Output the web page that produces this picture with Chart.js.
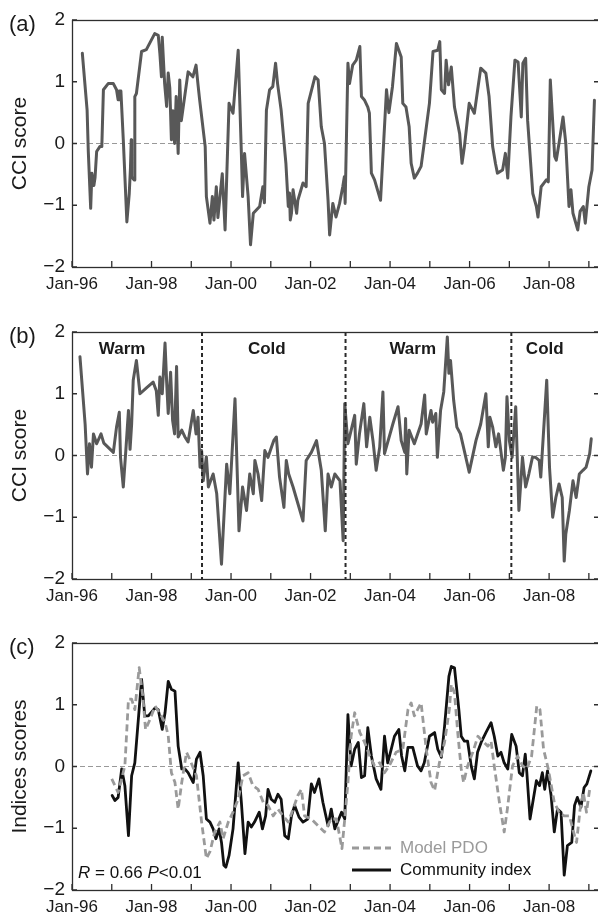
<!DOCTYPE html>
<html>
<head>
<meta charset="utf-8">
<script src="https://cdn.jsdelivr.net/npm/chart.js@4/dist/chart.umd.min.js"></script>
<style>
  html, body { margin: 0; padding: 0; background: #fff; overflow: hidden; }
  body { width: 598px; height: 915px; position: relative; }
  canvas { position: absolute; left: 0; }
</style>
</head>
<body>
<canvas id="panelA" width="600" height="305" style="top:0px"></canvas>
<canvas id="panelB" width="600" height="305" style="top:312px"></canvas>
<canvas id="panelC" width="600" height="305" style="top:623px"></canvas>
<script>
// ---- data (decimal years) ----
const yearTicks = [1996, 1997, 1998, 1999, 2000, 2001, 2002, 2003, 2004, 2005, 2006, 2007, 2008, 2009];
const yTicks = [-2, -1, 0, 1, 2];

// (a) CCI score
const timeA = [1996.26,1996.38,1996.41,1996.47,1996.50,1996.55,1996.58,1996.62,1996.70,1996.75,1996.79,1996.91,1997.04,1997.12,1997.16,1997.18,1997.23,1997.29,1997.38,1997.44,1997.47,1997.49,1997.50,1997.56,1997.58,1997.62,1997.75,1997.87,1998.08,1998.17,1998.21,1998.25,1998.27,1998.33,1998.38,1998.42,1998.46,1998.50,1998.54,1998.58,1998.62,1998.67,1998.71,1998.75,1998.92,1999.04,1999.12,1999.17,1999.21,1999.35,1999.38,1999.47,1999.53,1999.57,1999.63,1999.67,1999.73,1999.78,1999.85,1999.95,2000.05,2000.18,2000.26,2000.29,2000.34,2000.43,2000.49,2000.56,2000.72,2000.80,2000.84,2000.89,2000.97,2001.05,2001.12,2001.17,2001.26,2001.38,2001.44,2001.47,2001.49,2001.52,2001.56,2001.65,2001.68,2001.81,2001.89,2001.94,2002.11,2002.19,2002.27,2002.35,2002.44,2002.48,2002.56,2002.64,2002.73,2002.81,2002.85,2002.87,2002.94,2002.98,2003.06,2003.15,2003.24,2003.28,2003.36,2003.44,2003.48,2003.53,2003.61,2003.76,2003.91,2003.97,2004.06,2004.16,2004.28,2004.32,2004.40,2004.48,2004.53,2004.61,2004.69,2004.78,2004.87,2004.99,2005.08,2005.20,2005.25,2005.29,2005.37,2005.41,2005.47,2005.54,2005.62,2005.75,2005.81,2005.87,2005.99,2006.12,2006.28,2006.41,2006.49,2006.58,2006.65,2006.70,2006.83,2006.90,2006.96,2007.04,2007.14,2007.22,2007.30,2007.34,2007.41,2007.46,2007.59,2007.68,2007.72,2007.80,2007.93,2007.98,2008.03,2008.14,2008.18,2008.26,2008.35,2008.42,2008.50,2008.55,2008.60,2008.72,2008.78,2008.86,2008.91,2009.00,2009.08,2009.14];
const cciA = [1.46,0.54,-0.13,-1.05,-0.48,-0.68,-0.55,-0.13,-0.05,-0.05,0.87,0.97,0.97,0.87,0.71,0.85,0.85,0.06,-1.27,-0.81,-0.40,0.06,-0.54,-0.59,0.76,0.81,1.49,1.52,1.78,1.75,1.46,1.08,1.72,0.97,0.60,1.14,0.90,0.06,0.53,0.00,0.76,-0.16,1.03,0.37,1.16,1.08,1.27,0.95,0.71,-0.05,-0.86,-1.29,-0.86,-1.24,-0.70,-1.20,-0.81,-0.49,-1.40,0.65,0.49,1.51,-0.16,-0.86,-0.16,-0.86,-1.64,-1.13,-1.02,-0.70,-0.96,0.54,0.87,0.92,1.30,0.97,0.54,-0.32,-1.02,-0.80,-1.24,-1.13,-0.75,-1.13,-0.92,-0.64,-0.70,0.65,1.08,1.03,0.27,0.00,-0.92,-1.48,-0.97,-1.19,-0.97,-0.70,-0.54,-0.97,1.30,0.97,1.27,1.35,1.57,0.76,0.70,0.59,0.49,-0.48,-0.59,-0.92,0.87,0.50,0.92,1.62,1.40,0.65,0.59,0.27,-0.32,-0.56,-0.48,-0.37,0.06,0.65,1.49,1.51,1.65,0.87,0.81,1.35,0.95,1.24,0.59,0.16,-0.32,-0.05,0.65,0.49,1.22,1.14,0.76,-0.05,-0.32,-0.48,-0.43,-0.16,-0.56,0.43,1.35,1.32,0.43,1.30,1.38,0.37,-0.81,-1.02,-1.19,-0.70,-0.59,-0.62,1.03,-0.21,-0.27,0.05,0.43,0.00,-1.02,-0.75,-1.13,-1.40,-1.10,-1.02,-1.29,-0.70,-0.43,0.70];

// (b) CCI score with regimes
const timeB = [1996.20,1996.33,1996.39,1996.44,1996.49,1996.54,1996.62,1996.73,1996.80,1997.04,1997.12,1997.19,1997.22,1997.29,1997.36,1997.42,1997.46,1997.50,1997.54,1997.62,1997.71,1997.88,1998.04,1998.12,1998.17,1998.21,1998.27,1998.34,1998.38,1998.42,1998.48,1998.53,1998.58,1998.63,1998.67,1998.76,1998.84,1998.92,1999.05,1999.12,1999.17,1999.22,1999.26,1999.30,1999.38,1999.43,1999.55,1999.64,1999.76,1999.89,1999.97,2000.10,2000.20,2000.29,2000.39,2000.47,2000.56,2000.60,2000.68,2000.77,2000.85,2000.93,2001.02,2001.08,2001.14,2001.22,2001.33,2001.39,2001.45,2001.56,2001.81,2001.89,2002.02,2002.15,2002.27,2002.37,2002.44,2002.52,2002.61,2002.74,2002.82,2002.86,2002.94,2003.11,2003.15,2003.23,2003.34,2003.41,2003.49,2003.57,2003.65,2003.74,2003.82,2003.86,2004.07,2004.20,2004.28,2004.37,2004.39,2004.42,2004.48,2004.61,2004.78,2004.87,2004.91,2005.03,2005.07,2005.15,2005.19,2005.27,2005.35,2005.44,2005.48,2005.52,2005.60,2005.68,2005.77,2005.99,2006.16,2006.28,2006.41,2006.47,2006.51,2006.58,2006.66,2006.73,2006.85,2006.90,2006.94,2007.00,2007.07,2007.16,2007.24,2007.33,2007.41,2007.49,2007.58,2007.66,2007.75,2007.79,2007.94,2008.01,2008.09,2008.17,2008.25,2008.33,2008.38,2008.42,2008.51,2008.60,2008.68,2008.76,2008.85,2008.93,2009.02,2009.06];
const cciB = [1.60,0.51,-0.30,0.19,-0.19,0.35,0.19,0.35,0.20,0.05,0.46,0.70,-0.03,-0.51,0.14,0.73,0.10,0.51,1.22,1.54,1.00,1.10,1.19,1.05,0.65,1.27,1.00,1.82,1.20,0.68,1.35,0.57,0.35,1.44,0.30,0.41,0.30,0.22,0.73,0.35,0.62,-0.19,0.08,-0.41,-0.02,-0.51,-0.30,-0.62,-1.76,-0.14,-0.62,0.92,-1.22,-0.51,-0.89,-0.30,-0.62,-0.08,-0.30,-0.73,0.08,-0.03,0.14,0.25,0.30,-0.35,-0.84,-0.08,-0.30,-0.51,-1.06,-0.08,0.05,0.24,-0.24,-1.22,-0.30,-0.51,-0.30,-0.41,-1.38,0.84,0.19,0.65,-0.14,0.35,0.84,0.14,0.62,0.24,-0.24,0.14,1.03,0.03,0.51,0.79,0.24,0.05,0.60,-0.30,0.41,0.19,0.51,0.98,0.35,0.73,0.54,0.68,-0.03,0.73,1.03,1.92,1.33,1.54,0.89,0.46,0.35,-0.27,0.24,0.51,1.00,0.14,0.62,0.46,0.14,0.35,-0.24,-0.03,0.95,0.24,-0.03,0.79,-0.89,-0.03,-0.51,-0.30,-0.03,-0.03,-0.08,-0.35,1.22,-0.19,-1.00,-0.68,-0.46,-0.68,-1.71,-1.27,-0.89,-0.41,-0.68,-0.30,-0.24,-0.19,0.03,0.27];
const regimeBreaks = [1999.27, 2002.88, 2007.05];
const regimeNames = ['Warm', 'Cold', 'Warm', 'Cold'];
const regimeNameAt = [1997.26, 2000.90, 2004.57, 2007.89];

// (c) Model PDO vs community index
const timeCommunity = [1997.01,1997.08,1997.16,1997.25,1997.33,1997.42,1997.50,1997.58,1997.75,1997.83,1997.92,1998.09,1998.17,1998.27,1998.34,1998.42,1998.50,1998.59,1998.67,1998.76,1998.84,1998.92,1999.05,1999.13,1999.22,1999.30,1999.38,1999.47,1999.55,1999.62,1999.70,1999.76,1999.82,1999.87,1999.95,2000.05,2000.18,2000.26,2000.35,2000.43,2000.51,2000.59,2000.71,2000.79,2000.87,2000.93,2001.01,2001.10,2001.18,2001.26,2001.35,2001.44,2001.52,2001.60,2001.71,2001.81,2001.93,2002.02,2002.10,2002.21,2002.31,2002.44,2002.52,2002.61,2002.78,2002.86,2002.94,2003.02,2003.11,2003.20,2003.28,2003.36,2003.44,2003.53,2003.65,2003.77,2003.86,2003.94,2004.03,2004.11,2004.22,2004.29,2004.37,2004.45,2004.57,2004.69,2004.78,2004.86,2004.99,2005.12,2005.20,2005.29,2005.37,2005.48,2005.54,2005.62,2005.73,2005.79,2005.87,2005.95,2006.04,2006.12,2006.20,2006.29,2006.41,2006.54,2006.62,2006.71,2006.79,2006.87,2006.96,2007.06,2007.17,2007.25,2007.33,2007.40,2007.44,2007.52,2007.59,2007.68,2007.76,2007.83,2007.89,2007.96,2008.05,2008.13,2008.21,2008.30,2008.38,2008.46,2008.57,2008.64,2008.71,2008.80,2008.88,2008.95,2009.05];
const communityIndex = [-0.47,-0.55,-0.50,-0.04,-0.31,-1.12,-0.15,0.06,1.41,0.82,0.82,0.95,0.92,0.60,0.87,1.38,1.25,1.22,0.33,-0.04,-0.04,-0.10,-0.26,0.12,0.23,-0.15,-0.85,-0.90,-1.01,-1.17,-1.01,-1.23,-1.60,-1.63,-1.44,-1.01,0.06,-0.58,-1.41,-0.90,-0.98,-0.90,-0.74,-1.01,-0.80,-0.37,-0.53,-0.58,-0.45,-0.53,-1.12,-1.17,-0.80,-0.63,-0.82,-0.90,-0.85,-0.28,-0.42,-0.20,-0.58,-0.96,-0.69,-1.01,-0.74,-0.85,0.84,0.01,0.28,0.39,-0.18,-0.15,0.63,0.17,-0.20,-0.37,0.49,0.06,0.28,0.49,0.60,0.17,-0.07,0.31,0.31,0.01,-0.07,0.06,0.49,0.55,0.28,0.15,0.65,1.46,1.62,1.60,0.92,0.49,0.41,0.41,0.01,-0.20,0.23,0.39,0.55,0.71,0.49,0.17,0.23,0.06,-0.04,0.52,0.33,-0.10,-0.15,0.20,-0.10,-0.85,-0.58,-0.23,-0.31,-0.10,-0.37,-0.07,-0.47,-1.06,-0.69,-0.74,-1.76,-1.28,-1.23,-0.63,-0.50,-0.66,-0.34,-0.28,-0.07];
const timePDO = [1997.00,1997.08,1997.16,1997.33,1997.42,1997.50,1997.58,1997.69,1997.78,1997.85,1997.96,1998.09,1998.22,1998.34,1998.42,1998.50,1998.59,1998.67,1998.76,1998.88,1998.96,1999.13,1999.26,1999.38,1999.47,1999.59,1999.72,1999.80,1999.93,2000.05,2000.18,2000.30,2000.43,2000.55,2000.68,2000.81,2000.93,2001.06,2001.18,2001.31,2001.44,2001.56,2001.68,2001.77,2001.85,2002.02,2002.19,2002.35,2002.52,2002.65,2002.73,2002.79,2002.86,2002.94,2003.02,2003.11,2003.24,2003.36,2003.49,2003.61,2003.74,2003.86,2003.98,2004.15,2004.32,2004.45,2004.53,2004.61,2004.69,2004.78,2004.91,2005.03,2005.12,2005.24,2005.37,2005.49,2005.54,2005.62,2005.71,2005.79,2005.85,2005.95,2006.08,2006.21,2006.33,2006.46,2006.54,2006.62,2006.75,2006.87,2006.95,2007.08,2007.21,2007.33,2007.44,2007.56,2007.69,2007.77,2007.86,2007.98,2008.13,2008.25,2008.38,2008.51,2008.64,2008.69,2008.78,2008.86,2008.94,2009.02];
const modelPDO = [-0.20,-0.31,-0.42,0.01,1.09,1.09,0.92,1.60,1.14,0.60,0.76,0.98,0.85,0.71,0.50,-0.10,-0.26,-0.69,-0.26,0.23,0.12,-0.15,-0.90,-1.49,-1.38,-1.06,-0.90,-1.17,-0.90,-0.74,-0.53,-0.15,-0.10,-0.31,-0.37,-0.58,-0.63,-0.80,-0.69,-0.80,-0.90,-0.69,-0.47,-0.37,-0.80,-0.85,-0.96,-1.06,-0.85,-0.85,-1.12,-1.33,-0.85,-0.26,0.49,0.87,0.55,0.39,0.17,0.01,0.06,-0.10,0.01,0.23,0.28,0.92,1.03,0.82,0.92,1.03,0.28,-0.26,-0.39,0.06,0.39,0.92,1.33,1.19,0.49,-0.04,-0.26,0.01,0.23,0.49,0.41,0.33,0.41,0.01,-0.58,-1.06,-0.69,0.01,0.17,0.01,-0.04,0.17,0.98,0.92,0.28,-0.04,-0.58,-0.74,-0.80,-0.80,-1.12,-1.23,-0.69,-0.42,-0.74,-0.37];

const FONT = "'Liberation Sans', Arial, Helvetica, sans-serif";
Chart.defaults.font.family = FONT;
Chart.defaults.color = '#1a1a1a';

function toPoints(xs, ys) {
    return xs.map((x, i) => ({ x: x, y: ys[i] }));
}

function yearLabel(v) {
    if (v % 2 !== 0) return '';
    return 'Jan-' + String(v).slice(2);
}

// draws the box, inward ticks, zero line and panel extras
const panelPlugin = {
    id: 'panel',
    beforeDatasetsDraw(chart, args, opts) {
        const { ctx, chartArea: a, scales: { x, y } } = chart;
        ctx.save();
        ctx.strokeStyle = '#999';
        ctx.lineWidth = 1;
        ctx.setLineDash([5, 3]);
        const y0 = y.getPixelForValue(0);
        ctx.beginPath();
        ctx.moveTo(a.left, y0);
        ctx.lineTo(a.right, y0);
        ctx.stroke();
        ctx.restore();
    },
    afterDraw(chart, args, opts) {
        const { ctx, chartArea: a, scales: { x, y } } = chart;
        ctx.save();

        // regime breaks (panel b)
        if (opts.regimes) {
            ctx.strokeStyle = '#2a2a2a';
            ctx.lineWidth = 2;
            ctx.setLineDash([4, 3]);
            regimeBreaks.forEach(t => {
                const px = x.getPixelForValue(t);
                ctx.beginPath();
                ctx.moveTo(px, a.top);
                ctx.lineTo(px, a.bottom);
                ctx.stroke();
            });
            ctx.setLineDash([]);
            ctx.fillStyle = '#1a1a1a';
            ctx.font = 'bold 17px ' + FONT;
            ctx.textAlign = 'center';
            ctx.textBaseline = 'middle';
            regimeNames.forEach((name, i) => {
                ctx.fillText(name, x.getPixelForValue(regimeNameAt[i]), a.top + 17);
            });
        }

        // frame
        ctx.setLineDash([]);
        ctx.strokeStyle = '#2e2e2e';
        ctx.lineWidth = 1.3;
        ctx.strokeRect(a.left + 0.5, a.top + 0.5, a.right - a.left, a.bottom - a.top);

        // inward ticks
        ctx.beginPath();
        yTicks.forEach(v => {
            const py = y.getPixelForValue(v);
            ctx.moveTo(a.left, py); ctx.lineTo(a.left + 5, py);
            ctx.moveTo(a.right, py); ctx.lineTo(a.right - 6, py);
        });
        yearTicks.forEach(v => {
            const px = x.getPixelForValue(v);
            ctx.moveTo(px, a.bottom); ctx.lineTo(px, a.bottom - 6);
        });
        ctx.stroke();

        // panel letter
        ctx.fillStyle = '#1a1a1a';
        ctx.font = '22px ' + FONT;
        ctx.textAlign = 'left';
        ctx.textBaseline = 'middle';
        ctx.fillText(opts.letter, 9, a.top + 5);

        // legend + stats (panel c)
        if (opts.legend) {
            const ly1 = a.bottom - 42, ly2 = a.bottom - 20;
            ctx.lineWidth = 2.8;
            ctx.strokeStyle = '#9a9a9a';
            ctx.setLineDash([7, 4]);
            ctx.beginPath(); ctx.moveTo(352, ly1); ctx.lineTo(391, ly1); ctx.stroke();
            ctx.setLineDash([]);
            ctx.strokeStyle = '#111';
            ctx.beginPath(); ctx.moveTo(352, ly2); ctx.lineTo(391, ly2); ctx.stroke();
            ctx.font = '17px ' + FONT;
            ctx.fillStyle = '#9a9a9a';
            ctx.fillText('Model PDO', 400, ly1);
            ctx.fillStyle = '#111';
            ctx.fillText('Community index', 400, ly2);

            // R = 0.66 P<0.01
            let tx = 78;
            const ty = a.bottom - 17;
            const parts = [['R', true], [' = 0.66 ', false], ['P', true], ['<0.01', false]];
            parts.forEach(([txt, it]) => {
                ctx.font = (it ? 'italic ' : '') + '17px ' + FONT;
                ctx.fillText(txt, tx, ty);
                tx += ctx.measureText(txt).width;
            });
        }
        ctx.restore();
    }
};

function makePanel(canvasId, datasets, yTitle, extra) {
    const ctx = document.getElementById(canvasId).getContext('2d');
    return new Chart(ctx, {
        type: 'line',
        data: { datasets: datasets },
        options: {
            responsive: false,
            animation: false,
            events: [],
            layout: { padding: { top: 20, right: 0, left: 0, bottom: 0 } },
            plugins: {
                legend: { display: false },
                tooltip: { enabled: false },
                panel: extra
            },
            elements: {
                point: { radius: 0 },
                line: { tension: 0, borderJoinStyle: 'round', borderCapStyle: 'round' }
            },
            scales: {
                x: {
                    type: 'linear',
                    min: 1996,
                    max: 2009.28,
                    afterBuildTicks: s => { s.ticks = yearTicks.map(v => ({ value: v })); },
                    afterFit: s => { s.height = 38; },
                    grid: { display: false, drawTicks: false },
                    border: { display: false },
                    ticks: {
                        autoSkip: false,
                        maxRotation: 0,
                        padding: 7,
                        font: { size: 17 },
                        color: '#1a1a1a',
                        callback: v => yearLabel(v)
                    }
                },
                y: {
                    min: -2,
                    max: 2,
                    afterBuildTicks: s => { s.ticks = yTicks.map(v => ({ value: v })); },
                    afterFit: s => { s.width = 72; },
                    grid: { display: false, drawTicks: false },
                    border: { display: false },
                    ticks: {
                        padding: 7,
                        font: { size: 19 },
                        color: '#1a1a1a',
                        callback: v => v < 0 ? '\u2212' + Math.abs(v) : String(v)
                    },
                    title: {
                        display: true,
                        text: yTitle,
                        font: { size: 21 },
                        color: '#1a1a1a',
                        padding: { top: 8, bottom: 0 }
                    }
                }
            }
        },
        plugins: [panelPlugin]
    });
}

makePanel('panelA', [{
    data: toPoints(timeA, cciA),
    borderColor: '#585858',
    borderWidth: 3
}], 'CCI score', { letter: '(a)' });

makePanel('panelB', [{
    data: toPoints(timeB, cciB),
    borderColor: '#585858',
    borderWidth: 3
}], 'CCI score', { letter: '(b)', regimes: true });

makePanel('panelC', [{
    label: 'Model PDO',
    data: toPoints(timePDO, modelPDO),
    borderColor: '#9a9a9a',
    borderWidth: 2.8,
    borderDash: [7, 4],
    borderCapStyle: 'butt'
}, {
    label: 'Community index',
    data: toPoints(timeCommunity, communityIndex),
    borderColor: '#111',
    borderWidth: 2.8
}], 'Indices scores', { letter: '(c)', legend: true });
</script>
</body>
</html>
